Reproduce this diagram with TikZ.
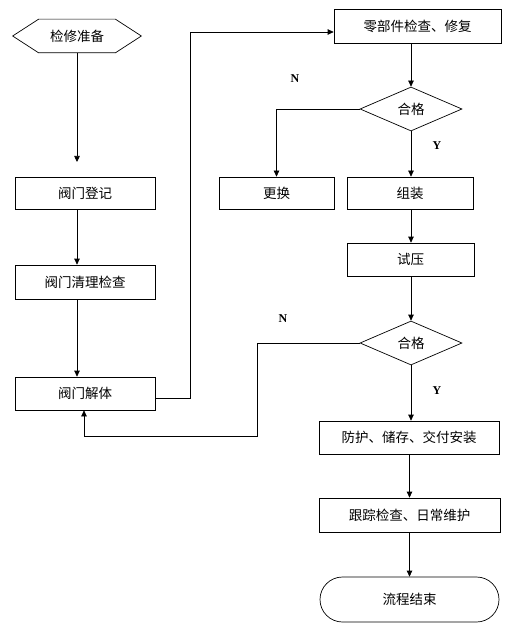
\documentclass[tikz,border=0pt]{standalone}
\usepackage{fontspec}
\setmainfont{Liberation Serif}
\newfontfamily\cjk{Noto Sans CJK SC}
\usetikzlibrary{arrows.meta,shapes.geometric,shapes.misc}
\begin{document}
\begin{tikzpicture}[x=1pt,y=-1pt,line width=0.7pt,
  >={Triangle[width=5.5pt,length=6pt]},
  txt/.style={font=\cjk\fontsize{13.5}{15}\selectfont},
  box/.style={draw,rectangle,inner sep=0pt,txt},
  dia/.style={draw,diamond,aspect=2.3,inner sep=0pt,minimum width=102pt,minimum height=44pt,txt},
  yn/.style={font=\bfseries\fontsize{12}{14}\selectfont}]
\useasboundingbox[fill=white] (0,0) rectangle (524,631);
% start hexagon
\node[txt,minimum width=128pt,minimum height=33pt,inner sep=0pt] (start) at (77,36) {检修准备};
\draw ([xshift=-26pt]start.north east) -- (start.east) -- ([xshift=-26pt]start.south east)
  -- ([xshift=26pt]start.south west) -- (start.west) -- ([xshift=26pt]start.north west) -- cycle;
\node[box,minimum width=140pt,minimum height=32pt] (reg) at (85,193) {阀门登记};
\node[box,minimum width=140pt,minimum height=34pt] (clean) at (85,282) {阀门清理检查};
\node[box,minimum width=140pt,minimum height=33pt] (dis) at (85,393.5) {阀门解体};
\node[box,minimum width=167pt,minimum height=34pt] (part) at (417.5,26) {零部件检查、修复};
\node[dia] (q1) at (411,109) {合格};
\node[box,minimum width=115pt,minimum height=32pt] (rep) at (276.5,193) {更换};
\node[box,minimum width=126pt,minimum height=32pt] (asm) at (410,193) {组装};
\node[box,minimum width=127pt,minimum height=33pt] (test) at (410.5,259.5) {试压};
\node[dia] (q2) at (411,343) {合格};
\node[box,minimum width=180pt,minimum height=33pt] (prot) at (409,437.5) {防护、储存、交付安装};
\node[box,minimum width=181pt,minimum height=34pt] (track) at (409.5,515) {跟踪检查、日常维护};
\node[draw,rounded rectangle,minimum width=179pt,minimum height=45pt,inner sep=0pt,txt] (fin) at (409.5,599.5) {流程结束};
% labels
\node[yn] (n1) at (295,79) {N};
\node[yn] (y1) at (437,146) {Y};
\node[yn] (n2) at (283,319) {N};
\node[yn] (y2) at (437,391) {Y};
% coordinates
\coordinate (a1) at (77,162);
\coordinate (d1) at (190,398);
\coordinate (d2) at (190,32);
\coordinate (c2) at (257,436);
\coordinate (c3) at (84,436);
% connectors
\draw[->] (start.south) -- (a1);
\draw[->] (reg.south -| a1) -- (clean.north -| a1);
\draw[->] (clean.south -| a1) -- (dis.north -| a1);
\draw (dis.east |- d1) -- (d1) -- (d2);
\draw[->] (d2) -- (part.west |- d2);
\draw[->] (part.south -| q1.north) -- (q1.north);
\draw[->] (q1.west) -| (rep.north);
\draw[->] (q1.south) -- (asm.north -| q1.south);
\draw[->] (asm.south -| q1.south) -- (test.north -| q1.south);
\draw[->] (test.south -| q2.north) -- (q2.north);
\draw (q2.west) -| (c2) -- (c3);
\draw[->] (c3) -- (c3 |- dis.south);
\draw[->] (q2.south) -- (prot.north -| q2.south);
\draw[->] (prot.south -| fin.north) -- (track.north -| fin.north);
\draw[->] (track.south -| fin.north) -- (fin.north);
\end{tikzpicture}
\end{document}
